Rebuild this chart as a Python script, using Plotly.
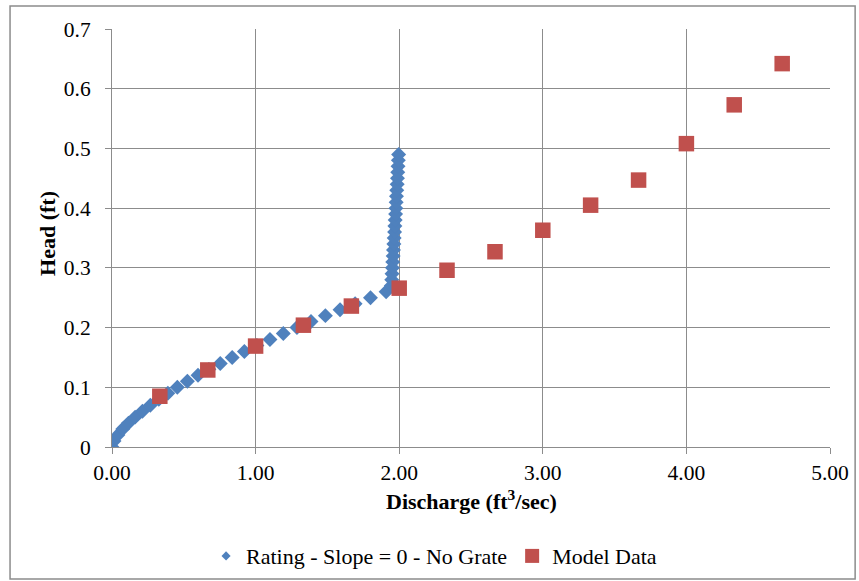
import plotly.graph_objects as go

# Rating curve: slope = 0, no grate (discharge ft^3/s, head ft)
rating_q = [0.000, 0.014, 0.041, 0.075, 0.115, 0.161, 0.212, 0.267, 0.326, 0.389,
            0.455, 0.525, 0.599, 0.675, 0.754, 0.837, 0.922, 1.009, 1.100, 1.193,
            1.288, 1.386, 1.486, 1.588, 1.693, 1.800, 1.909,
            1.945, 1.948, 1.950, 1.953, 1.955, 1.958, 1.960, 1.963, 1.965, 1.968,
            1.970, 1.972, 1.975, 1.977, 1.979, 1.981, 1.983, 1.986, 1.988, 1.990,
            1.992, 1.994, 1.996]
rating_h = [0.00, 0.01, 0.02, 0.03, 0.04, 0.05, 0.06, 0.07, 0.08, 0.09,
            0.10, 0.11, 0.12, 0.13, 0.14, 0.15, 0.16, 0.17, 0.18, 0.19,
            0.20, 0.21, 0.22, 0.23, 0.24, 0.25, 0.26,
            0.27, 0.28, 0.29, 0.30, 0.31, 0.32, 0.33, 0.34, 0.35, 0.36,
            0.37, 0.38, 0.39, 0.40, 0.41, 0.42, 0.43, 0.44, 0.45, 0.46,
            0.47, 0.48, 0.49]

# Physical model measurements
model_q = [0.333, 0.667, 1.000, 1.333, 1.667, 2.000, 2.333, 2.667, 3.000, 3.333,
           3.667, 4.000, 4.333, 4.667]
model_h = [0.085, 0.129, 0.169, 0.204, 0.236, 0.266, 0.296, 0.327, 0.363, 0.405,
           0.447, 0.508, 0.573, 0.642]

series_names = ["Rating - Slope = 0 - No Grate", "Model Data"]
x_ticks = [0, 1, 2, 3, 4, 5]
x_tick_text = ["0.00", "1.00", "2.00", "3.00", "4.00", "5.00"]
y_ticks = [0, 0.1, 0.2, 0.3, 0.4, 0.5, 0.6, 0.7]
y_tick_text = ["0", "0.1", "0.2", "0.3", "0.4", "0.5", "0.6", "0.7"]

serif = "Liberation Serif"
grid = "#8c8c8c"
blue = "#4f81bd"
red = "#c0504d"
tick_font = dict(family=serif, size=21.5, color="black")
title_font = dict(family=serif, size=22, color="black")

fig = go.Figure()
fig.add_trace(go.Scatter(
    x=rating_q, y=rating_h, mode="markers", name=series_names[0],
    legendgroup="rating", showlegend=False,
    marker=dict(symbol="diamond", size=11.5, color=blue, line=dict(width=0)),
))
fig.add_trace(go.Scatter(
    x=model_q, y=model_h, mode="markers", name=series_names[1],
    legendgroup="model", showlegend=False,
    marker=dict(symbol="square", size=15.5, color=red, line=dict(width=0)),
))
# legend entries with the smaller key symbols
fig.add_trace(go.Scatter(
    x=[None], y=[None], mode="markers", name=series_names[0], legendgroup="rating",
    marker=dict(symbol="diamond", size=7, color=blue, line=dict(width=0)),
))
fig.add_trace(go.Scatter(
    x=[None], y=[None], mode="markers", name=series_names[1], legendgroup="model",
    marker=dict(symbol="square", size=14, color=red, line=dict(width=0)),
))

fig.update_layout(
    width=859, height=581,
    margin=dict(l=112, r=29, t=29, b=134, autoexpand=False),
    paper_bgcolor="white", plot_bgcolor="white",
    font=dict(family=serif, size=21.5, color="black"),
    showlegend=True,
    legend=dict(orientation="h", x=0.131, xanchor="left", y=-0.261, yanchor="middle",
                bgcolor="rgba(0,0,0,0)",
                font=dict(family=serif, size=22, color="black"), itemwidth=30,
                traceorder="normal"),
    xaxis=dict(range=[0, 5], tickvals=x_ticks, ticktext=x_tick_text,
               showgrid=True, gridcolor=grid, gridwidth=1,
               showline=True, linecolor=grid, ticks="outside", ticklen=6,
               tickcolor=grid, zeroline=False, mirror=False,
               ticklabelstandoff=0, tickfont=tick_font),
    yaxis=dict(range=[0, 0.7], tickvals=y_ticks, ticktext=y_tick_text,
               showgrid=True, gridcolor=grid, gridwidth=1,
               showline=True, linecolor=grid, ticks="outside", ticklen=6,
               tickcolor=grid, zeroline=False,
               ticklabelstandoff=10, tickfont=tick_font),
    annotations=[
        dict(text="<b>Discharge (ft<sup>3</sup>/sec)</b>", xref="paper", yref="paper",
             x=0.5, y=-0.126, xanchor="center", yanchor="middle", showarrow=False,
             font=title_font),
        dict(text="<b>Head (ft)</b>", xref="paper", yref="paper",
             x=-0.089, y=0.51, xanchor="center", yanchor="middle", showarrow=False,
             textangle=-90, font=title_font),
    ],
    shapes=[
        dict(type="rect", xref="paper", yref="paper", x0=-0.142, x1=1.035,
             y0=-0.316, y1=1.055, line=dict(color="#8c8c8c", width=1.5)),
    ],
)

fig.write_html("out.html")
